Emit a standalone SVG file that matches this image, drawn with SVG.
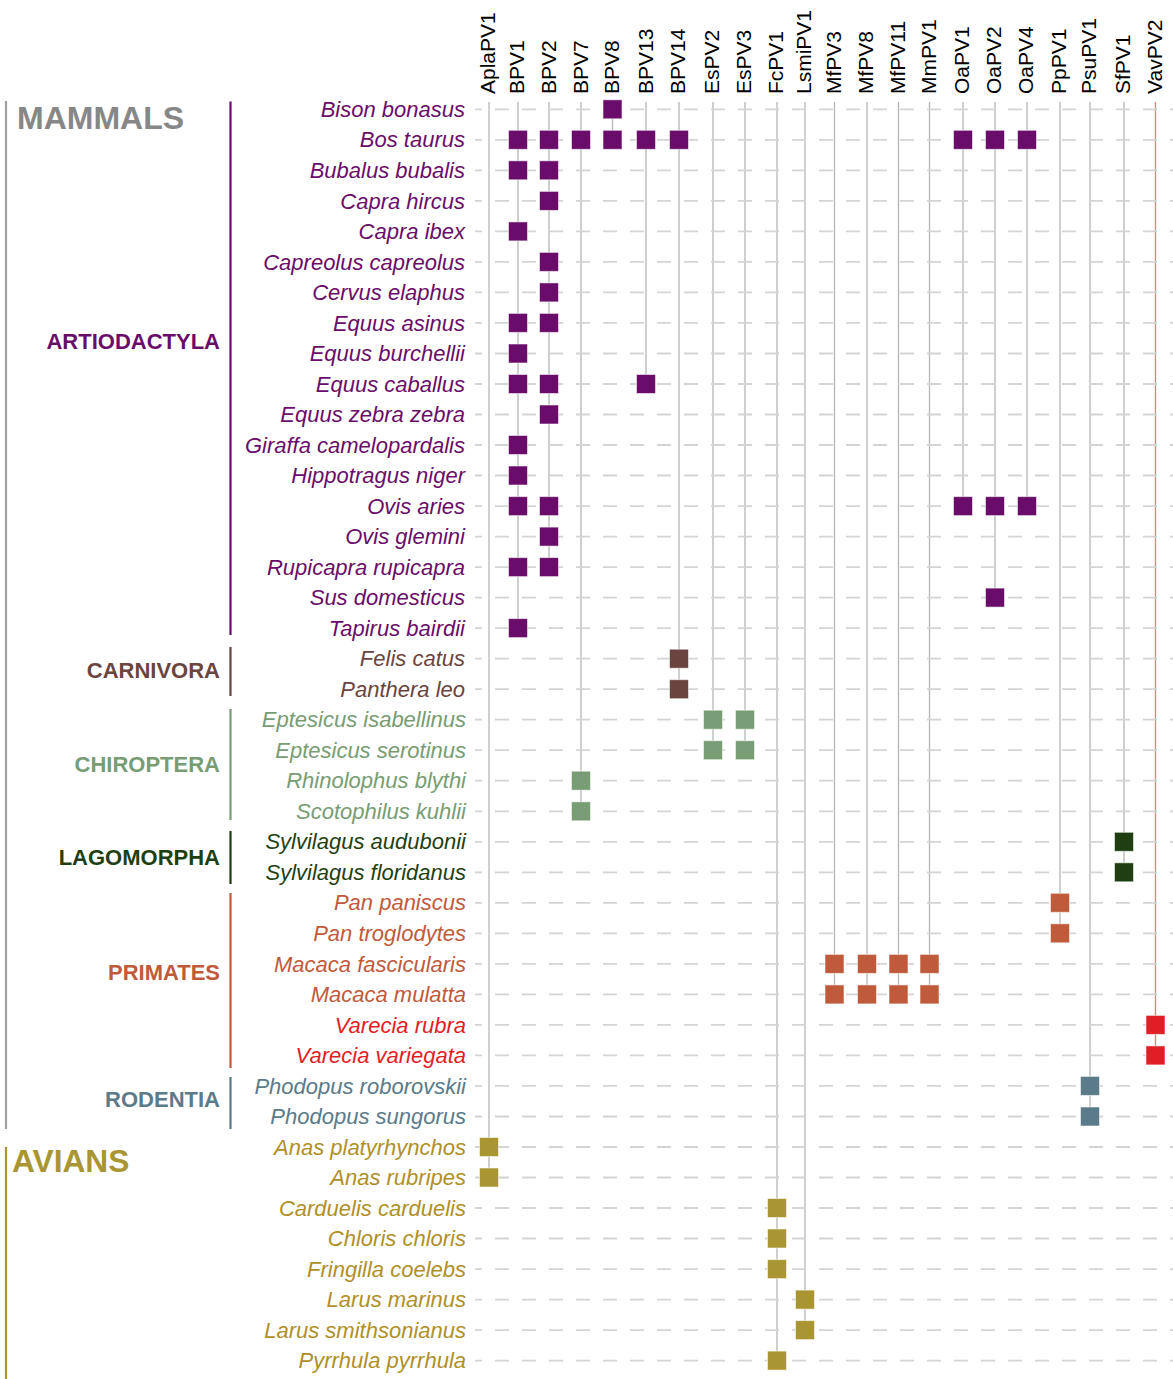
<svg xmlns="http://www.w3.org/2000/svg" width="1173" height="1379" viewBox="0 0 1173 1379">
<style>
  .bg{fill:#ffffff}
  .col text{font-family:"Liberation Sans",Arial,sans-serif;font-size:21px;fill:#000}
  .sp{font-family:"Liberation Sans",Arial,sans-serif;font-size:22px;font-style:italic;text-anchor:end}
  .ord{font-family:"Liberation Sans",Arial,sans-serif;font-size:22px;font-weight:bold;text-anchor:end}
  .cls{font-family:"Liberation Sans",Arial,sans-serif;font-weight:bold}
  .grid{stroke:#d4d4d4;stroke-width:1.8;stroke-dasharray:14 13;stroke-dashoffset:7;fill:none}
  .vl{stroke:#b5b5b5;stroke-width:1.3;fill:none}
  .vl.red{stroke:#f07a7a}
  .sq{stroke:#ffffff;stroke-opacity:0.55;stroke-width:1}
  .bar{stroke-width:2.2;fill:none}
  .art{fill:#6a0d6a}.carn{fill:#6b4440}.chir{fill:#789c74}.lago{fill:#1f3f12}
  .prim{fill:#bf5a3b}.vare{fill:#e31d25}.rod{fill:#5b7a8a}.avs{fill:#a99632}.avt{fill:#b08f28}
</style>
<rect class="bg" x="0" y="0" width="1173" height="1379"/>

<!-- class and order brackets -->
<g id="class-mammals">
  <line class="bar" x1="6" y1="101" x2="6" y2="1129" stroke="#a0a0a0"/>
  <text class="cls" x="17" y="129" font-size="32" fill="#878787">MAMMALS</text>
</g>
<g id="class-avians">
  <line class="bar" x1="6" y1="1147" x2="6" y2="1379" stroke="#a99632"/>
  <text class="cls" x="12" y="1172" font-size="31.7" fill="#a99632">AVIANS</text>
</g>
<g id="order-artiodactyla">
  <line class="bar" x1="230.5" y1="101.5" x2="230.5" y2="635" stroke="#6a0d6a"/>
  <text class="ord art" x="220" y="348.5">ARTIODACTYLA</text>
</g>
<g id="order-carnivora">
  <line class="bar" x1="230.5" y1="647" x2="230.5" y2="696" stroke="#6b4440"/>
  <text class="ord carn" x="220" y="678.3">CARNIVORA</text>
</g>
<g id="order-chiroptera">
  <line class="bar" x1="230.5" y1="709" x2="230.5" y2="820" stroke="#789c74"/>
  <text class="ord chir" x="220" y="771.7">CHIROPTERA</text>
</g>
<g id="order-lagomorpha">
  <line class="bar" x1="230.5" y1="831" x2="230.5" y2="884" stroke="#1f3f12"/>
  <text class="ord lago" x="220" y="865">LAGOMORPHA</text>
</g>
<g id="order-primates">
  <line class="bar" x1="230.5" y1="893" x2="230.5" y2="1068" stroke="#bf5a3b"/>
  <text class="ord prim" x="220" y="979.5">PRIMATES</text>
</g>
<g id="order-rodentia">
  <line class="bar" x1="230.5" y1="1077" x2="230.5" y2="1129" stroke="#5b7a8a"/>
  <text class="ord rod" x="220" y="1107.3">RODENTIA</text>
</g>

<!-- virus columns: labels -->
<g id="columns" class="col">
  <g id="col-AplaPV1"><text transform="translate(495,94) rotate(-90)">AplaPV1</text></g>
  <g id="col-BPV1"><text transform="translate(524,94) rotate(-90)">BPV1</text></g>
  <g id="col-BPV2"><text transform="translate(556,94) rotate(-90)">BPV2</text></g>
  <g id="col-BPV7"><text transform="translate(587.5,94) rotate(-90)">BPV7</text></g>
  <g id="col-BPV8"><text transform="translate(619,94) rotate(-90)">BPV8</text></g>
  <g id="col-BPV13"><text transform="translate(652.5,94) rotate(-90)">BPV13</text></g>
  <g id="col-BPV14"><text transform="translate(685,94) rotate(-90)">BPV14</text></g>
  <g id="col-EsPV2"><text transform="translate(719,94) rotate(-90)">EsPV2</text></g>
  <g id="col-EsPV3"><text transform="translate(751,94) rotate(-90)">EsPV3</text></g>
  <g id="col-FcPV1"><text transform="translate(783,94) rotate(-90)">FcPV1</text></g>
  <g id="col-LsmiPV1"><text transform="translate(811,94) rotate(-90)">LsmiPV1</text></g>
  <g id="col-MfPV3"><text transform="translate(840.5,94) rotate(-90)">MfPV3</text></g>
  <g id="col-MfPV8"><text transform="translate(873,94) rotate(-90)">MfPV8</text></g>
  <g id="col-MfPV11"><text transform="translate(904.5,94) rotate(-90)">MfPV11</text></g>
  <g id="col-MmPV1"><text transform="translate(935.5,94) rotate(-90)">MmPV1</text></g>
  <g id="col-OaPV1"><text transform="translate(969,94) rotate(-90)">OaPV1</text></g>
  <g id="col-OaPV2"><text transform="translate(1001,94) rotate(-90)">OaPV2</text></g>
  <g id="col-OaPV4"><text transform="translate(1033,94) rotate(-90)">OaPV4</text></g>
  <g id="col-PpPV1"><text transform="translate(1066,94) rotate(-90)">PpPV1</text></g>
  <g id="col-PsuPV1"><text transform="translate(1096,94) rotate(-90)">PsuPV1</text></g>
  <g id="col-SfPV1"><text transform="translate(1130,94) rotate(-90)">SfPV1</text></g>
  <g id="col-VavPV2"><text transform="translate(1161.5,94) rotate(-90)">VavPV2</text></g>
</g>

<!-- connectors: vertical column lines -->
<g id="connectors">
  <line class="vl" x1="489" y1="102" x2="489" y2="1177.5"/>
  <line class="vl" x1="518" y1="102" x2="518" y2="628.1"/>
  <line class="vl" x1="549" y1="102" x2="549" y2="567.1"/>
  <line class="vl" x1="581" y1="102" x2="581" y2="811.3"/>
  <line class="vl" x1="612.5" y1="102" x2="612.5" y2="139.8"/>
  <line class="vl" x1="646" y1="102" x2="646" y2="384"/>
  <line class="vl" x1="679" y1="102" x2="679" y2="689.2"/>
  <line class="vl" x1="713" y1="102" x2="713" y2="750.2"/>
  <line class="vl" x1="745" y1="102" x2="745" y2="750.2"/>
  <line class="vl" x1="777" y1="102" x2="777" y2="1360.6"/>
  <line class="vl" x1="805" y1="102" x2="805" y2="1330.1"/>
  <line class="vl" x1="834.5" y1="102" x2="834.5" y2="994.4"/>
  <line class="vl" x1="867" y1="102" x2="867" y2="994.4"/>
  <line class="vl" x1="898.5" y1="102" x2="898.5" y2="994.4"/>
  <line class="vl" x1="929.5" y1="102" x2="929.5" y2="994.4"/>
  <line class="vl" x1="963" y1="102" x2="963" y2="506.1"/>
  <line class="vl" x1="995" y1="102" x2="995" y2="597.6"/>
  <line class="vl" x1="1027" y1="102" x2="1027" y2="506.1"/>
  <line class="vl" x1="1060" y1="102" x2="1060" y2="933.3"/>
  <line class="vl" x1="1090" y1="102" x2="1090" y2="1116.5"/>
  <line class="vl" x1="1124" y1="102" x2="1124" y2="872.3"/>
  <line class="vl red" x1="1155.5" y1="102" x2="1155.5" y2="1055.4"/>
</g>

<!-- species rows: label, dashed gridline, presence squares -->
<g id="rows">
<g id="row-01" transform="translate(0,109.3)"><line class="grid" x1="475" y1="0" x2="1173" y2="0"/><text class="sp art" x="465" y="7.6">Bison bonasus</text>
  <rect class="sq art" x="603" y="-9.5" width="19" height="19"/></g>
<g id="row-02" transform="translate(0,139.8)"><line class="grid" x1="475" y1="0" x2="1173" y2="0"/><text class="sp art" x="465" y="7.6">Bos taurus</text>
  <rect class="sq art" x="508.5" y="-9.5" width="19" height="19"/><rect class="sq art" x="539.5" y="-9.5" width="19" height="19"/><rect class="sq art" x="571.5" y="-9.5" width="19" height="19"/><rect class="sq art" x="603" y="-9.5" width="19" height="19"/><rect class="sq art" x="636.5" y="-9.5" width="19" height="19"/><rect class="sq art" x="669.5" y="-9.5" width="19" height="19"/><rect class="sq art" x="953.5" y="-9.5" width="19" height="19"/><rect class="sq art" x="985.5" y="-9.5" width="19" height="19"/><rect class="sq art" x="1017.5" y="-9.5" width="19" height="19"/></g>
<g id="row-03" transform="translate(0,170.3)"><line class="grid" x1="475" y1="0" x2="1173" y2="0"/><text class="sp art" x="465" y="7.6">Bubalus bubalis</text>
  <rect class="sq art" x="508.5" y="-9.5" width="19" height="19"/><rect class="sq art" x="539.5" y="-9.5" width="19" height="19"/></g>
<g id="row-04" transform="translate(0,200.9)"><line class="grid" x1="475" y1="0" x2="1173" y2="0"/><text class="sp art" x="465" y="7.6">Capra hircus</text>
  <rect class="sq art" x="539.5" y="-9.5" width="19" height="19"/></g>
<g id="row-05" transform="translate(0,231.4)"><line class="grid" x1="475" y1="0" x2="1173" y2="0"/><text class="sp art" x="465" y="7.6">Capra ibex</text>
  <rect class="sq art" x="508.5" y="-9.5" width="19" height="19"/></g>
<g id="row-06" transform="translate(0,261.9)"><line class="grid" x1="475" y1="0" x2="1173" y2="0"/><text class="sp art" x="465" y="7.6">Capreolus capreolus</text>
  <rect class="sq art" x="539.5" y="-9.5" width="19" height="19"/></g>
<g id="row-07" transform="translate(0,292.4)"><line class="grid" x1="475" y1="0" x2="1173" y2="0"/><text class="sp art" x="465" y="7.6">Cervus elaphus</text>
  <rect class="sq art" x="539.5" y="-9.5" width="19" height="19"/></g>
<g id="row-08" transform="translate(0,322.9)"><line class="grid" x1="475" y1="0" x2="1173" y2="0"/><text class="sp art" x="465" y="7.6">Equus asinus</text>
  <rect class="sq art" x="508.5" y="-9.5" width="19" height="19"/><rect class="sq art" x="539.5" y="-9.5" width="19" height="19"/></g>
<g id="row-09" transform="translate(0,353.5)"><line class="grid" x1="475" y1="0" x2="1173" y2="0"/><text class="sp art" x="465" y="7.6">Equus burchellii</text>
  <rect class="sq art" x="508.5" y="-9.5" width="19" height="19"/></g>
<g id="row-10" transform="translate(0,384)"><line class="grid" x1="475" y1="0" x2="1173" y2="0"/><text class="sp art" x="465" y="7.6">Equus caballus</text>
  <rect class="sq art" x="508.5" y="-9.5" width="19" height="19"/><rect class="sq art" x="539.5" y="-9.5" width="19" height="19"/><rect class="sq art" x="636.5" y="-9.5" width="19" height="19"/></g>
<g id="row-11" transform="translate(0,414.5)"><line class="grid" x1="475" y1="0" x2="1173" y2="0"/><text class="sp art" x="465" y="7.6">Equus zebra zebra</text>
  <rect class="sq art" x="539.5" y="-9.5" width="19" height="19"/></g>
<g id="row-12" transform="translate(0,445)"><line class="grid" x1="475" y1="0" x2="1173" y2="0"/><text class="sp art" x="465" y="7.6">Giraffa camelopardalis</text>
  <rect class="sq art" x="508.5" y="-9.5" width="19" height="19"/></g>
<g id="row-13" transform="translate(0,475.5)"><line class="grid" x1="475" y1="0" x2="1173" y2="0"/><text class="sp art" x="465" y="7.6">Hippotragus niger</text>
  <rect class="sq art" x="508.5" y="-9.5" width="19" height="19"/></g>
<g id="row-14" transform="translate(0,506.1)"><line class="grid" x1="475" y1="0" x2="1173" y2="0"/><text class="sp art" x="465" y="7.6">Ovis aries</text>
  <rect class="sq art" x="508.5" y="-9.5" width="19" height="19"/><rect class="sq art" x="539.5" y="-9.5" width="19" height="19"/><rect class="sq art" x="953.5" y="-9.5" width="19" height="19"/><rect class="sq art" x="985.5" y="-9.5" width="19" height="19"/><rect class="sq art" x="1017.5" y="-9.5" width="19" height="19"/></g>
<g id="row-15" transform="translate(0,536.6)"><line class="grid" x1="475" y1="0" x2="1173" y2="0"/><text class="sp art" x="465" y="7.6">Ovis glemini</text>
  <rect class="sq art" x="539.5" y="-9.5" width="19" height="19"/></g>
<g id="row-16" transform="translate(0,567.1)"><line class="grid" x1="475" y1="0" x2="1173" y2="0"/><text class="sp art" x="465" y="7.6">Rupicapra rupicapra</text>
  <rect class="sq art" x="508.5" y="-9.5" width="19" height="19"/><rect class="sq art" x="539.5" y="-9.5" width="19" height="19"/></g>
<g id="row-17" transform="translate(0,597.6)"><line class="grid" x1="475" y1="0" x2="1173" y2="0"/><text class="sp art" x="465" y="7.6">Sus domesticus</text>
  <rect class="sq art" x="985.5" y="-9.5" width="19" height="19"/></g>
<g id="row-18" transform="translate(0,628.1)"><line class="grid" x1="475" y1="0" x2="1173" y2="0"/><text class="sp art" x="465" y="7.6">Tapirus bairdii</text>
  <rect class="sq art" x="508.5" y="-9.5" width="19" height="19"/></g>
<g id="row-19" transform="translate(0,658.7)"><line class="grid" x1="475" y1="0" x2="1173" y2="0"/><text class="sp carn" x="465" y="7.6">Felis catus</text>
  <rect class="sq carn" x="669.5" y="-9.5" width="19" height="19"/></g>
<g id="row-20" transform="translate(0,689.2)"><line class="grid" x1="475" y1="0" x2="1173" y2="0"/><text class="sp carn" x="465" y="7.6">Panthera leo</text>
  <rect class="sq carn" x="669.5" y="-9.5" width="19" height="19"/></g>
<g id="row-21" transform="translate(0,719.7)"><line class="grid" x1="475" y1="0" x2="1173" y2="0"/><text class="sp chir" x="466" y="7.6">Eptesicus isabellinus</text>
  <rect class="sq chir" x="703.5" y="-9.5" width="19" height="19"/><rect class="sq chir" x="735.5" y="-9.5" width="19" height="19"/></g>
<g id="row-22" transform="translate(0,750.2)"><line class="grid" x1="475" y1="0" x2="1173" y2="0"/><text class="sp chir" x="466" y="7.6">Eptesicus serotinus</text>
  <rect class="sq chir" x="703.5" y="-9.5" width="19" height="19"/><rect class="sq chir" x="735.5" y="-9.5" width="19" height="19"/></g>
<g id="row-23" transform="translate(0,780.7)"><line class="grid" x1="475" y1="0" x2="1173" y2="0"/><text class="sp chir" x="466" y="7.6">Rhinolophus blythi</text>
  <rect class="sq chir" x="571.5" y="-9.5" width="19" height="19"/></g>
<g id="row-24" transform="translate(0,811.3)"><line class="grid" x1="475" y1="0" x2="1173" y2="0"/><text class="sp chir" x="466" y="7.6">Scotophilus kuhlii</text>
  <rect class="sq chir" x="571.5" y="-9.5" width="19" height="19"/></g>
<g id="row-25" transform="translate(0,841.8)"><line class="grid" x1="475" y1="0" x2="1173" y2="0"/><text class="sp lago" x="466" y="7.6">Sylvilagus audubonii</text>
  <rect class="sq lago" x="1114.5" y="-9.5" width="19" height="19"/></g>
<g id="row-26" transform="translate(0,872.3)"><line class="grid" x1="475" y1="0" x2="1173" y2="0"/><text class="sp lago" x="466" y="7.6">Sylvilagus floridanus</text>
  <rect class="sq lago" x="1114.5" y="-9.5" width="19" height="19"/></g>
<g id="row-27" transform="translate(0,902.8)"><line class="grid" x1="475" y1="0" x2="1173" y2="0"/><text class="sp prim" x="466" y="7.6">Pan paniscus</text>
  <rect class="sq prim" x="1050.5" y="-9.5" width="19" height="19"/></g>
<g id="row-28" transform="translate(0,933.3)"><line class="grid" x1="475" y1="0" x2="1173" y2="0"/><text class="sp prim" x="466" y="7.6">Pan troglodytes</text>
  <rect class="sq prim" x="1050.5" y="-9.5" width="19" height="19"/></g>
<g id="row-29" transform="translate(0,963.9)"><line class="grid" x1="475" y1="0" x2="1173" y2="0"/><text class="sp prim" x="466" y="7.6">Macaca fascicularis</text>
  <rect class="sq prim" x="825" y="-9.5" width="19" height="19"/><rect class="sq prim" x="857.5" y="-9.5" width="19" height="19"/><rect class="sq prim" x="889" y="-9.5" width="19" height="19"/><rect class="sq prim" x="920" y="-9.5" width="19" height="19"/></g>
<g id="row-30" transform="translate(0,994.4)"><line class="grid" x1="475" y1="0" x2="1173" y2="0"/><text class="sp prim" x="466" y="7.6">Macaca mulatta</text>
  <rect class="sq prim" x="825" y="-9.5" width="19" height="19"/><rect class="sq prim" x="857.5" y="-9.5" width="19" height="19"/><rect class="sq prim" x="889" y="-9.5" width="19" height="19"/><rect class="sq prim" x="920" y="-9.5" width="19" height="19"/></g>
<g id="row-31" transform="translate(0,1024.9)"><line class="grid" x1="475" y1="0" x2="1173" y2="0"/><text class="sp vare" x="466" y="7.6">Varecia rubra</text>
  <rect class="sq vare" x="1146" y="-9.5" width="19" height="19"/></g>
<g id="row-32" transform="translate(0,1055.4)"><line class="grid" x1="475" y1="0" x2="1173" y2="0"/><text class="sp vare" x="466" y="7.6">Varecia variegata</text>
  <rect class="sq vare" x="1146" y="-9.5" width="19" height="19"/></g>
<g id="row-33" transform="translate(0,1085.9)"><line class="grid" x1="475" y1="0" x2="1173" y2="0"/><text class="sp rod" x="466" y="7.6">Phodopus roborovskii</text>
  <rect class="sq rod" x="1080.5" y="-9.5" width="19" height="19"/></g>
<g id="row-34" transform="translate(0,1116.5)"><line class="grid" x1="475" y1="0" x2="1173" y2="0"/><text class="sp rod" x="466" y="7.6">Phodopus sungorus</text>
  <rect class="sq rod" x="1080.5" y="-9.5" width="19" height="19"/></g>
<g id="row-35" transform="translate(0,1147)"><line class="grid" x1="475" y1="0" x2="1173" y2="0"/><text class="sp avt" x="466" y="7.6">Anas platyrhynchos</text>
  <rect class="sq avs" x="479.5" y="-9.5" width="19" height="19"/></g>
<g id="row-36" transform="translate(0,1177.5)"><line class="grid" x1="475" y1="0" x2="1173" y2="0"/><text class="sp avt" x="466" y="7.6">Anas rubripes</text>
  <rect class="sq avs" x="479.5" y="-9.5" width="19" height="19"/></g>
<g id="row-37" transform="translate(0,1208)"><line class="grid" x1="475" y1="0" x2="1173" y2="0"/><text class="sp avt" x="466" y="7.6">Carduelis carduelis</text>
  <rect class="sq avs" x="767.5" y="-9.5" width="19" height="19"/></g>
<g id="row-38" transform="translate(0,1238.5)"><line class="grid" x1="475" y1="0" x2="1173" y2="0"/><text class="sp avt" x="466" y="7.6">Chloris chloris</text>
  <rect class="sq avs" x="767.5" y="-9.5" width="19" height="19"/></g>
<g id="row-39" transform="translate(0,1269.1)"><line class="grid" x1="475" y1="0" x2="1173" y2="0"/><text class="sp avt" x="466" y="7.6">Fringilla coelebs</text>
  <rect class="sq avs" x="767.5" y="-9.5" width="19" height="19"/></g>
<g id="row-40" transform="translate(0,1299.6)"><line class="grid" x1="475" y1="0" x2="1173" y2="0"/><text class="sp avt" x="466" y="7.6">Larus marinus</text>
  <rect class="sq avs" x="795.5" y="-9.5" width="19" height="19"/></g>
<g id="row-41" transform="translate(0,1330.1)"><line class="grid" x1="475" y1="0" x2="1173" y2="0"/><text class="sp avt" x="466" y="7.6">Larus smithsonianus</text>
  <rect class="sq avs" x="795.5" y="-9.5" width="19" height="19"/></g>
<g id="row-42" transform="translate(0,1360.6)"><line class="grid" x1="475" y1="0" x2="1173" y2="0"/><text class="sp avt" x="466" y="7.6">Pyrrhula pyrrhula</text>
  <rect class="sq avs" x="767.5" y="-9.5" width="19" height="19"/></g>
</g>
</svg>
